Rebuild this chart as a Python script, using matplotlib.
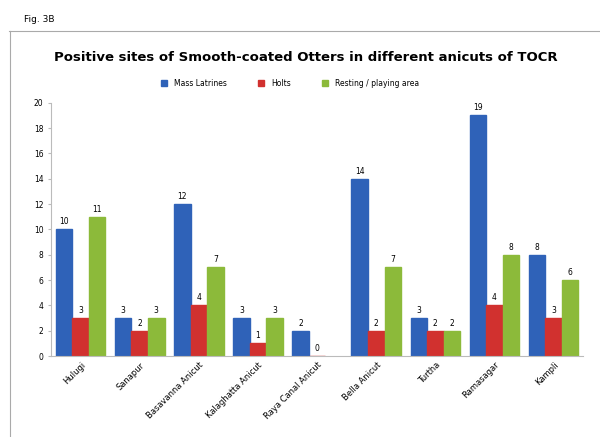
import numpy as np
import matplotlib
matplotlib.use("Agg")
import matplotlib.pyplot as plt
from matplotlib.lines import Line2D

# Data
anicuts = ["Hulugi", "Sanapur", "Basavanna Anicut", "Kalaghatta Anicut",
           "Raya Canal Anicut", "Bella Anicut", "Turtha", "Ramasagar", "Kampli"]
latrines = [10, 3, 12, 3, 2, 14, 3, 19, 8]
holts = [3, 2, 4, 1, 0, 2, 2, 4, 3]
resting = [11, 3, 7, 3, None, 7, 2, 8, 6]

series = [
    ("Mass Latrines", latrines, "#2f62b8"),
    ("Holts", holts, "#d1312f"),
    ("Resting / playing area", resting, "#8cba3a"),
]

fig = plt.figure(figsize=(6, 4.37), dpi=100)
ax = fig.add_axes([0.085, 0.185, 0.887, 0.58])

x = np.arange(len(anicuts))
w = 0.28
for i, (name, vals, col) in enumerate(series):
    xs = [xi + (i - 1) * w for xi, v in zip(x, vals) if v is not None]
    vs = [v for v in vals if v is not None]
    bars = ax.bar(xs, vs, width=w, color=col, edgecolor=col, label=name)
    for b, v in zip(bars, vs):
        ax.text(b.get_x() + b.get_width() / 2, v + 0.25, str(v),
                ha="center", va="bottom", fontsize=5.5)

ax.set_xlim(-0.5, len(anicuts) - 0.5)
ax.set_ylim(0, 20)
ax.set_yticks(range(0, 21, 2))
ax.tick_params(axis="y", labelsize=5.5, length=2, color="#bbbbbb")
ax.tick_params(axis="x", length=0, pad=3)
ax.set_xticks(x)
ax.set_xticklabels(anicuts, rotation=45, ha="right", rotation_mode="anchor", fontsize=6)
for s in ["top", "right"]:
    ax.spines[s].set_visible(False)
ax.spines["left"].set_color("#bbbbbb")
ax.spines["bottom"].set_color("#bbbbbb")

fig.text(0.51, 0.868, "Positive sites of Smooth-coated Otters in different anicuts of TOCR",
         ha="center", va="center", fontsize=9.5, fontweight="bold")

handles = [Line2D([], [], marker="s", linestyle="", color=c, markersize=4) for _, _, c in series]
fig.legend(handles, [s[0] for s in series], loc="center", bbox_to_anchor=(0.48, 0.81),
           ncol=3, frameon=False, fontsize=5.5, columnspacing=3.5, handletextpad=0.3)

fig.text(0.04, 0.955, "Fig. 3B", fontsize=6.5, va="center")
fig.add_artist(Line2D([0.015, 1.0], [0.93, 0.93], color="#aaaaaa", lw=0.8))
fig.add_artist(Line2D([0.017, 0.017], [0.0, 0.93], color="#aaaaaa", lw=0.8))

fig.savefig("out.png", dpi=100)
